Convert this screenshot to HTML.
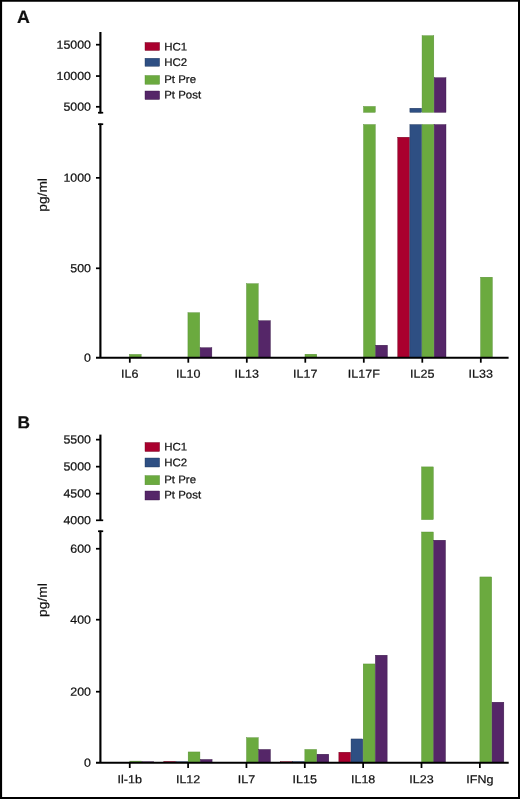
<!DOCTYPE html>
<html><head><meta charset="utf-8"><title>Figure</title>
<style>
html,body{margin:0;padding:0;background:#fff;}
body{width:520px;height:799px;overflow:hidden;position:relative;}
svg{position:absolute;left:0;top:0;display:block;}
text{text-rendering:geometricPrecision;font-family:"Liberation Sans",sans-serif;fill:#111;stroke:#111;stroke-width:0.22px;}
#txt{filter:grayscale(1);}
</style></head><body>
<svg width="520" height="799" viewBox="0 0 520 799">
<rect x="0" y="0" width="520" height="799" fill="#fff"/>
<rect x="129.40" y="354.40" width="11.77" height="3.40" fill="#6BAA3F" stroke="#4f8a2c" stroke-width="0.4"/>
<rect x="187.93" y="312.70" width="11.77" height="45.10" fill="#6BAA3F" stroke="#4f8a2c" stroke-width="0.4"/>
<rect x="200.10" y="347.70" width="11.77" height="10.10" fill="#552668" stroke="#341343" stroke-width="0.4"/>
<rect x="246.46" y="283.70" width="11.77" height="74.10" fill="#6BAA3F" stroke="#4f8a2c" stroke-width="0.4"/>
<rect x="258.63" y="320.70" width="11.77" height="37.10" fill="#552668" stroke="#341343" stroke-width="0.4"/>
<rect x="304.99" y="354.20" width="11.77" height="3.60" fill="#6BAA3F" stroke="#4f8a2c" stroke-width="0.4"/>
<rect x="363.52" y="124.55" width="11.77" height="233.25" fill="#6BAA3F" stroke="#4f8a2c" stroke-width="0.4"/>
<rect x="363.52" y="106.45" width="11.77" height="5.90" fill="#6BAA3F" stroke="#4f8a2c" stroke-width="0.4"/>
<rect x="375.69" y="345.20" width="11.77" height="12.60" fill="#552668" stroke="#341343" stroke-width="0.4"/>
<rect x="397.71" y="137.20" width="11.77" height="220.60" fill="#A9002E" stroke="#6e001c" stroke-width="0.4"/>
<rect x="409.88" y="124.55" width="11.77" height="233.25" fill="#2E4F83" stroke="#1c3358" stroke-width="0.4"/>
<rect x="409.88" y="108.20" width="11.77" height="4.15" fill="#2E4F83" stroke="#1c3358" stroke-width="0.4"/>
<rect x="422.05" y="124.55" width="11.77" height="233.25" fill="#6BAA3F" stroke="#4f8a2c" stroke-width="0.4"/>
<rect x="422.05" y="35.70" width="11.77" height="76.65" fill="#6BAA3F" stroke="#4f8a2c" stroke-width="0.4"/>
<rect x="434.22" y="124.55" width="11.77" height="233.25" fill="#552668" stroke="#341343" stroke-width="0.4"/>
<rect x="434.22" y="77.70" width="11.77" height="34.65" fill="#552668" stroke="#341343" stroke-width="0.4"/>
<rect x="480.58" y="277.20" width="11.77" height="80.60" fill="#6BAA3F" stroke="#4f8a2c" stroke-width="0.4"/>
<line x1="100.40" y1="32.00" x2="100.40" y2="113.40" stroke="#000" stroke-width="2.15"/>
<line x1="100.40" y1="123.50" x2="100.40" y2="357.80" stroke="#000" stroke-width="2.15"/>
<line x1="98.00" y1="112.70" x2="103.20" y2="112.70" stroke="#000" stroke-width="1.7"/>
<line x1="98.00" y1="124.20" x2="103.20" y2="124.20" stroke="#000" stroke-width="1.7"/>
<line x1="96.00" y1="44.70" x2="100.40" y2="44.70" stroke="#000" stroke-width="1.75"/>
<line x1="96.00" y1="76.05" x2="100.40" y2="76.05" stroke="#000" stroke-width="1.75"/>
<line x1="96.00" y1="106.80" x2="100.40" y2="106.80" stroke="#000" stroke-width="1.75"/>
<line x1="96.00" y1="177.85" x2="100.40" y2="177.85" stroke="#000" stroke-width="1.75"/>
<line x1="96.00" y1="268.30" x2="100.40" y2="268.30" stroke="#000" stroke-width="1.75"/>
<line x1="96.00" y1="357.80" x2="508.60" y2="357.80" stroke="#000" stroke-width="2.0"/>
<line x1="129.80" y1="357.80" x2="129.80" y2="362.70" stroke="#000" stroke-width="1.75"/>
<line x1="188.30" y1="357.80" x2="188.30" y2="362.70" stroke="#000" stroke-width="1.75"/>
<line x1="246.80" y1="357.80" x2="246.80" y2="362.70" stroke="#000" stroke-width="1.75"/>
<line x1="305.30" y1="357.80" x2="305.30" y2="362.70" stroke="#000" stroke-width="1.75"/>
<line x1="363.80" y1="357.80" x2="363.80" y2="362.70" stroke="#000" stroke-width="1.75"/>
<line x1="422.30" y1="357.80" x2="422.30" y2="362.70" stroke="#000" stroke-width="1.75"/>
<line x1="480.80" y1="357.80" x2="480.80" y2="362.70" stroke="#000" stroke-width="1.75"/>
<rect x="145" y="42.5" width="14.6" height="8.0" fill="#A9002E" stroke="#6e001c" stroke-width="0.4"/>
<rect x="145" y="58.25" width="14.6" height="8.0" fill="#2E4F83" stroke="#1c3358" stroke-width="0.4"/>
<rect x="145" y="75.5" width="14.6" height="8.75" fill="#6BAA3F" stroke="#4f8a2c" stroke-width="0.4"/>
<rect x="145" y="91" width="14.6" height="8.5" fill="#552668" stroke="#341343" stroke-width="0.4"/>
<rect x="129.80" y="761.10" width="11.77" height="1.70" fill="#6BAA3F" stroke="#4f8a2c" stroke-width="0.4"/>
<rect x="141.97" y="761.75" width="11.77" height="1.05" fill="#552668" stroke="#341343" stroke-width="0.4"/>
<rect x="163.81" y="761.40" width="11.77" height="1.40" fill="#A9002E" stroke="#6e001c" stroke-width="0.4"/>
<rect x="175.98" y="761.70" width="11.77" height="1.10" fill="#2E4F83" stroke="#1c3358" stroke-width="0.4"/>
<rect x="188.15" y="751.95" width="11.77" height="10.85" fill="#6BAA3F" stroke="#4f8a2c" stroke-width="0.4"/>
<rect x="200.32" y="759.45" width="11.77" height="3.35" fill="#552668" stroke="#341343" stroke-width="0.4"/>
<rect x="246.50" y="737.70" width="11.77" height="25.10" fill="#6BAA3F" stroke="#4f8a2c" stroke-width="0.4"/>
<rect x="258.67" y="749.45" width="11.77" height="13.35" fill="#552668" stroke="#341343" stroke-width="0.4"/>
<rect x="280.51" y="761.60" width="11.77" height="1.20" fill="#A9002E" stroke="#6e001c" stroke-width="0.4"/>
<rect x="292.68" y="761.60" width="11.77" height="1.20" fill="#2E4F83" stroke="#1c3358" stroke-width="0.4"/>
<rect x="304.85" y="749.45" width="11.77" height="13.35" fill="#6BAA3F" stroke="#4f8a2c" stroke-width="0.4"/>
<rect x="317.02" y="754.20" width="11.77" height="8.60" fill="#552668" stroke="#341343" stroke-width="0.4"/>
<rect x="338.86" y="752.20" width="11.77" height="10.60" fill="#A9002E" stroke="#6e001c" stroke-width="0.4"/>
<rect x="351.03" y="738.95" width="11.77" height="23.85" fill="#2E4F83" stroke="#1c3358" stroke-width="0.4"/>
<rect x="363.20" y="663.95" width="11.77" height="98.85" fill="#6BAA3F" stroke="#4f8a2c" stroke-width="0.4"/>
<rect x="375.37" y="655.20" width="11.77" height="107.60" fill="#552668" stroke="#341343" stroke-width="0.4"/>
<rect x="421.55" y="532.00" width="11.77" height="230.80" fill="#6BAA3F" stroke="#4f8a2c" stroke-width="0.4"/>
<rect x="421.55" y="466.90" width="11.77" height="52.70" fill="#6BAA3F" stroke="#4f8a2c" stroke-width="0.4"/>
<rect x="433.72" y="540.20" width="11.77" height="222.60" fill="#552668" stroke="#341343" stroke-width="0.4"/>
<rect x="479.90" y="576.95" width="11.77" height="185.85" fill="#6BAA3F" stroke="#4f8a2c" stroke-width="0.4"/>
<rect x="492.07" y="702.20" width="11.77" height="60.60" fill="#552668" stroke="#341343" stroke-width="0.4"/>
<line x1="100.40" y1="434.60" x2="100.40" y2="521.00" stroke="#000" stroke-width="2.15"/>
<line x1="100.40" y1="530.55" x2="100.40" y2="762.80" stroke="#000" stroke-width="2.15"/>
<line x1="96.00" y1="520.30" x2="103.20" y2="520.30" stroke="#000" stroke-width="1.7"/>
<line x1="98.00" y1="531.25" x2="103.20" y2="531.25" stroke="#000" stroke-width="1.7"/>
<line x1="96.00" y1="439.65" x2="100.40" y2="439.65" stroke="#000" stroke-width="1.75"/>
<line x1="96.00" y1="466.65" x2="100.40" y2="466.65" stroke="#000" stroke-width="1.75"/>
<line x1="96.00" y1="493.65" x2="100.40" y2="493.65" stroke="#000" stroke-width="1.75"/>
<line x1="96.00" y1="548.75" x2="100.40" y2="548.75" stroke="#000" stroke-width="1.75"/>
<line x1="96.00" y1="619.70" x2="100.40" y2="619.70" stroke="#000" stroke-width="1.75"/>
<line x1="96.00" y1="691.70" x2="100.40" y2="691.70" stroke="#000" stroke-width="1.75"/>
<line x1="96.00" y1="762.80" x2="508.70" y2="762.80" stroke="#000" stroke-width="2.0"/>
<line x1="129.75" y1="762.80" x2="129.75" y2="768.00" stroke="#000" stroke-width="1.75"/>
<line x1="188.10" y1="762.80" x2="188.10" y2="768.00" stroke="#000" stroke-width="1.75"/>
<line x1="246.45" y1="762.80" x2="246.45" y2="768.00" stroke="#000" stroke-width="1.75"/>
<line x1="304.80" y1="762.80" x2="304.80" y2="768.00" stroke="#000" stroke-width="1.75"/>
<line x1="363.15" y1="762.80" x2="363.15" y2="768.00" stroke="#000" stroke-width="1.75"/>
<line x1="421.50" y1="762.80" x2="421.50" y2="768.00" stroke="#000" stroke-width="1.75"/>
<line x1="479.85" y1="762.80" x2="479.85" y2="768.00" stroke="#000" stroke-width="1.75"/>
<rect x="145" y="442.5" width="14.6" height="9.0" fill="#A9002E" stroke="#6e001c" stroke-width="0.4"/>
<rect x="145" y="458" width="14.6" height="9" fill="#2E4F83" stroke="#1c3358" stroke-width="0.4"/>
<rect x="145" y="475.6" width="14.6" height="9.199999999999989" fill="#6BAA3F" stroke="#4f8a2c" stroke-width="0.4"/>
<rect x="145" y="491" width="14.6" height="9" fill="#552668" stroke="#341343" stroke-width="0.4"/>
<g id="txt">
<text transform="translate(91.00,48.65) scale(1.05,1) rotate(0.03)" text-anchor="end" font-size="11.8" >15000</text>
<text transform="translate(91.00,80.00) scale(1.05,1) rotate(0.03)" text-anchor="end" font-size="11.8" >10000</text>
<text transform="translate(91.00,110.75) scale(1.05,1) rotate(0.03)" text-anchor="end" font-size="11.8" >5000</text>
<text transform="translate(91.00,181.80) scale(1.05,1) rotate(0.03)" text-anchor="end" font-size="11.8" >1000</text>
<text transform="translate(91.00,272.25) scale(1.05,1) rotate(0.03)" text-anchor="end" font-size="11.8" >500</text>
<text transform="translate(91.00,361.75) scale(1.05,1) rotate(0.03)" text-anchor="end" font-size="11.8" >0</text>
<text transform="translate(129.80,377.80) scale(1.08,1) rotate(0.03)" text-anchor="middle" font-size="11.6" stroke-width="0.32">IL6</text>
<text transform="translate(188.30,377.80) scale(1.08,1) rotate(0.03)" text-anchor="middle" font-size="11.6" stroke-width="0.32">IL10</text>
<text transform="translate(246.80,377.80) scale(1.08,1) rotate(0.03)" text-anchor="middle" font-size="11.6" stroke-width="0.32">IL13</text>
<text transform="translate(305.30,377.80) scale(1.08,1) rotate(0.03)" text-anchor="middle" font-size="11.6" stroke-width="0.32">IL17</text>
<text transform="translate(363.80,377.80) scale(1.08,1) rotate(0.03)" text-anchor="middle" font-size="11.6" stroke-width="0.32">IL17F</text>
<text transform="translate(422.30,377.80) scale(1.08,1) rotate(0.03)" text-anchor="middle" font-size="11.6" stroke-width="0.32">IL25</text>
<text transform="translate(480.80,377.80) scale(1.08,1) rotate(0.03)" text-anchor="middle" font-size="11.6" stroke-width="0.32">IL33</text>
<text text-anchor="middle" font-size="12.6" transform="translate(46.7,194.9) rotate(-89.97) scale(1.09,1)">pg/ml</text>
<text transform="translate(16.90,23.10) scale(1,1) rotate(0.03)" text-anchor="start" font-size="17.8" font-weight="bold" stroke-width="0.2">A</text>
<text transform="translate(164.20,50.60) scale(1.04,1) rotate(0.03)" text-anchor="start" font-size="11.0" stroke-width="0.2">HC1</text>
<text transform="translate(164.20,66.00) scale(1.04,1) rotate(0.03)" text-anchor="start" font-size="11.0" stroke-width="0.2">HC2</text>
<text transform="translate(164.20,83.10) scale(1.04,1) rotate(0.03)" text-anchor="start" font-size="11.0" stroke-width="0.2">Pt Pre</text>
<text transform="translate(164.20,98.60) scale(1.04,1) rotate(0.03)" text-anchor="start" font-size="11.0" stroke-width="0.2">Pt Post</text>
<text transform="translate(91.00,443.60) scale(1.05,1) rotate(0.03)" text-anchor="end" font-size="11.8" >5500</text>
<text transform="translate(91.00,470.60) scale(1.05,1) rotate(0.03)" text-anchor="end" font-size="11.8" >5000</text>
<text transform="translate(91.00,497.60) scale(1.05,1) rotate(0.03)" text-anchor="end" font-size="11.8" >4500</text>
<text transform="translate(91.00,524.25) scale(1.05,1) rotate(0.03)" text-anchor="end" font-size="11.8" >4000</text>
<text transform="translate(91.00,552.70) scale(1.05,1) rotate(0.03)" text-anchor="end" font-size="11.8" >600</text>
<text transform="translate(91.00,623.65) scale(1.05,1) rotate(0.03)" text-anchor="end" font-size="11.8" >400</text>
<text transform="translate(91.00,695.65) scale(1.05,1) rotate(0.03)" text-anchor="end" font-size="11.8" >200</text>
<text transform="translate(91.00,766.75) scale(1.05,1) rotate(0.03)" text-anchor="end" font-size="11.8" >0</text>
<text transform="translate(129.75,783.15) scale(1.08,1) rotate(0.03)" text-anchor="middle" font-size="11.6" stroke-width="0.32">Il-1b</text>
<text transform="translate(188.10,783.15) scale(1.08,1) rotate(0.03)" text-anchor="middle" font-size="11.6" stroke-width="0.32">IL12</text>
<text transform="translate(246.45,783.15) scale(1.08,1) rotate(0.03)" text-anchor="middle" font-size="11.6" stroke-width="0.32">IL7</text>
<text transform="translate(304.80,783.15) scale(1.08,1) rotate(0.03)" text-anchor="middle" font-size="11.6" stroke-width="0.32">IL15</text>
<text transform="translate(363.15,783.15) scale(1.08,1) rotate(0.03)" text-anchor="middle" font-size="11.6" stroke-width="0.32">IL18</text>
<text transform="translate(421.50,783.15) scale(1.08,1) rotate(0.03)" text-anchor="middle" font-size="11.6" stroke-width="0.32">IL23</text>
<text transform="translate(479.85,783.15) scale(1.08,1) rotate(0.03)" text-anchor="middle" font-size="11.6" stroke-width="0.32">IFNg</text>
<text text-anchor="middle" font-size="12.6" transform="translate(46.7,600.1) rotate(-89.97) scale(1.09,1)">pg/ml</text>
<text transform="translate(17.50,428.30) scale(1,1) rotate(0.03)" text-anchor="start" font-size="17.3" font-weight="bold" stroke-width="0.2">B</text>
<text transform="translate(164.20,450.40) scale(1.04,1) rotate(0.03)" text-anchor="start" font-size="11.0" stroke-width="0.2">HC1</text>
<text transform="translate(164.20,466.20) scale(1.04,1) rotate(0.03)" text-anchor="start" font-size="11.0" stroke-width="0.2">HC2</text>
<text transform="translate(164.20,483.30) scale(1.04,1) rotate(0.03)" text-anchor="start" font-size="11.0" stroke-width="0.2">Pt Pre</text>
<text transform="translate(164.20,498.40) scale(1.04,1) rotate(0.03)" text-anchor="start" font-size="11.0" stroke-width="0.2">Pt Post</text>
</g>
<path d="M0 0H520V799H0Z M2.1 1.7V796.9H518V1.7Z" fill="#000" fill-rule="evenodd"/>
</svg>
</body></html>
